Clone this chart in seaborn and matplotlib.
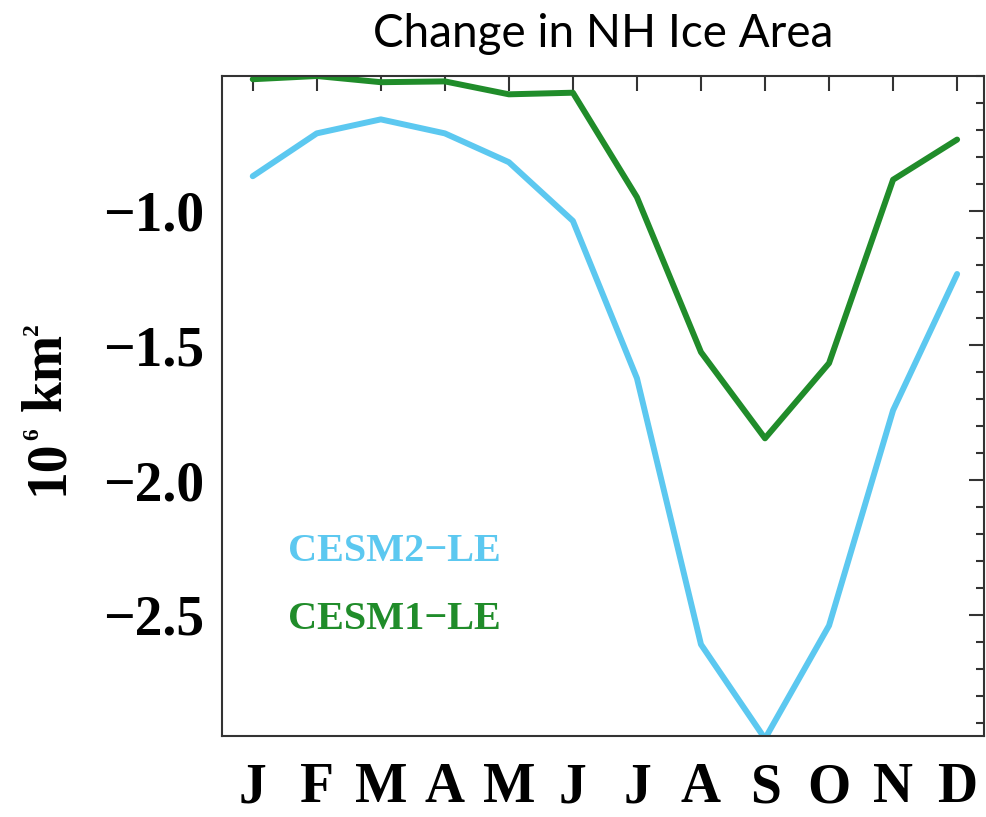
import matplotlib
matplotlib.use("Agg")
import matplotlib.pyplot as plt
from matplotlib.ticker import MultipleLocator, FixedLocator
import numpy as np
import pandas as pd
import seaborn as sns

# Monthly change in Northern Hemisphere sea-ice area (10^6 km^2)
months = ["J", "F", "M", "A", "M", "J", "J", "A", "S", "O", "N", "D"]
cesm2_le = [-0.872, -0.713, -0.661, -0.713, -0.820, -1.038,
            -1.622, -2.610, -2.960, -2.540, -1.741, -1.235]
cesm1_le = [-0.512, -0.500, -0.523, -0.520, -0.568, -0.562,
            -0.950, -1.525, -1.845, -1.566, -0.885, -0.736]
model_names = ["CESM2\u2212LE", "CESM1\u2212LE"]
model_colors = ["#5CC8F0", "#208C2A"]
ytick_values = [-1.0, -1.5, -2.0, -2.5]

month_idx = np.arange(len(months))
df = pd.DataFrame({
    "month": np.concatenate([month_idx, month_idx]),
    "value": cesm2_le + cesm1_le,
    "model": [model_names[0]] * len(months) + [model_names[1]] * len(months),
})

sns.set_style("white")
plt.rcParams["font.family"] = ["Liberation Serif", "DejaVu Serif"]
plt.rcParams["font.weight"] = "bold"
plt.rcParams["text.color"] = "black"
plt.rcParams["xtick.labelcolor"] = "black"
plt.rcParams["ytick.labelcolor"] = "black"

W, H = 987, 817
fig = plt.figure(figsize=(W / 100, H / 100), dpi=100)
ax = fig.add_axes([222 / W, 1 - 736 / H, (984 - 222) / W, (736 - 76) / H])

sns.lineplot(data=df, x="month", y="value", hue="model",
             palette=dict(zip(model_names, model_colors)),
             linewidth=4.3, legend=False, ax=ax, sort=False)

ax.set_xlim(-0.48, 11.42)
ax.set_ylim(-2.95, -0.5)

ax.xaxis.set_major_locator(FixedLocator(month_idx))
ax.set_xticklabels(months)
ax.yaxis.set_major_locator(FixedLocator(ytick_values))
ax.yaxis.set_minor_locator(MultipleLocator(0.1))
ax.set_yticklabels([f"{v:.1f}".replace("-", "\u2212") for v in ytick_values])

ax.tick_params(axis="both", which="both", direction="in",
               top=True, right=True, color="#333333")
ax.tick_params(axis="both", which="major", length=11, width=1.5,
               labelsize=40, labelcolor="black")
ax.tick_params(axis="y", which="minor", length=6, width=1.5)
ax.tick_params(axis="x", which="major", pad=19)
ax.tick_params(axis="y", which="major", pad=13)
for lab in ax.get_xticklabels() + ax.get_yticklabels():
    lab.set_fontweight("bold")

for sp in ax.spines.values():
    sp.set_linewidth(1.5)
    sp.set_color("#333333")

ax.set_xlabel("")
ax.set_ylabel("")

# Inline series labels
ax.text(0.55, -2.30, model_names[0], color=model_colors[0], fontsize=29,
        fontweight="bold", ha="left", va="baseline")
ax.text(0.55, -2.553, model_names[1], color=model_colors[1], fontsize=29,
        fontweight="bold", ha="left", va="baseline")

# Rotated y-axis unit label "10^6 km^2" built from pieces so the
# exponents stay small
renderer = fig.canvas.get_renderer()
base_x = 62          # pixel column of the rotated baseline
cursor = 495         # pixel row where the label starts (bottom)
pieces = [("10", 40, 0), ("6", 17, 24), (" km", 40, 0), ("2", 17, 24)]
for txt, size, shift in pieces:
    t = fig.text((base_x - shift) / W, 1 - cursor / H, txt, fontsize=size,
                 fontweight="bold", rotation=90, rotation_mode="anchor",
                 ha="left", va="baseline", color="black")
    bb = t.get_window_extent(renderer)
    cursor -= bb.height + (2 if size < 20 else 0)

fig.text(603 / W, 1 - 47 / H, "Change in NH Ice Area",
         family=["Lato", "DejaVu Sans"], fontweight="normal",
         fontsize=33, ha="center", va="baseline", color="black")

fig.savefig("out.png", dpi=100, facecolor="white")
